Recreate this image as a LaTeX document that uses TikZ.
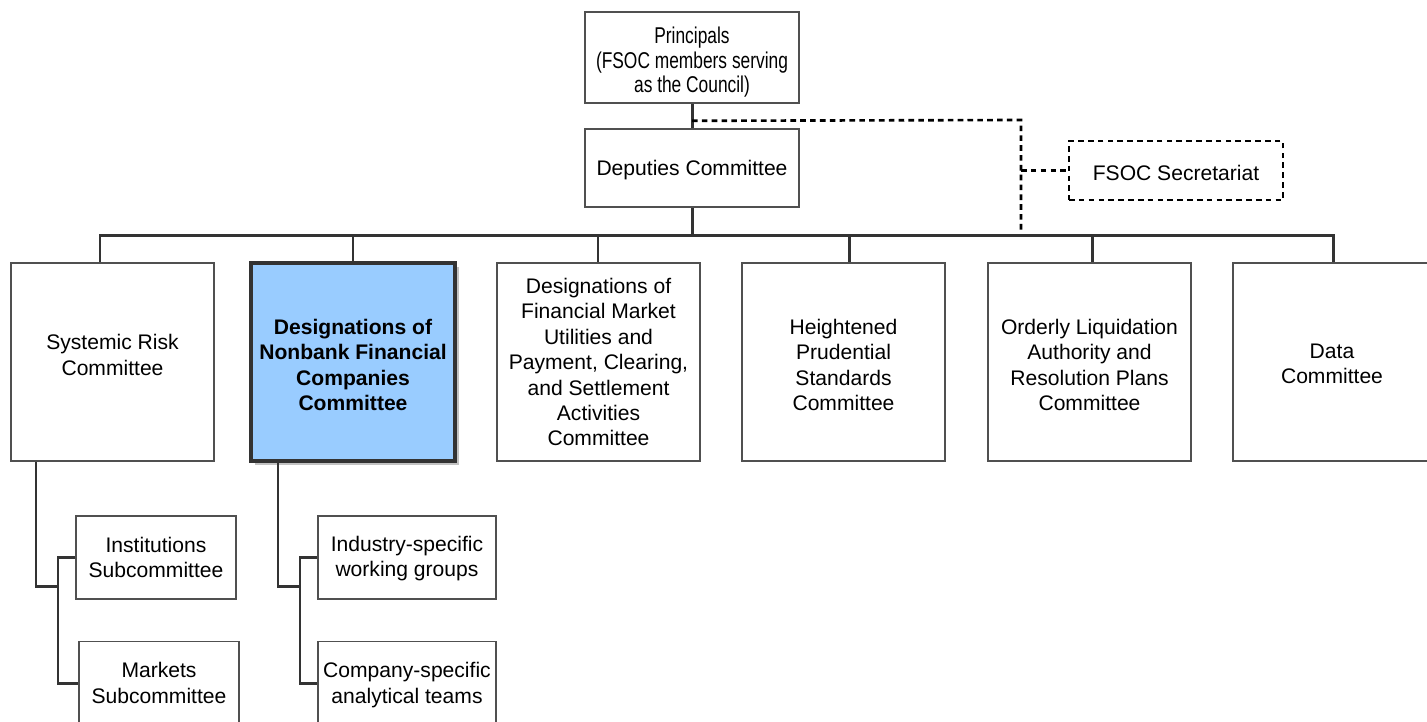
\documentclass[tikz,border=0pt]{standalone}
\usepackage{fontspec}
\setmainfont{Liberation Sans}
\newfontfamily\narrowfont[FakeStretch=0.76]{Liberation Sans}
\usetikzlibrary{shadows}
\definecolor{linec}{HTML}{333333}
\definecolor{boxc}{HTML}{505050}
\definecolor{hl}{HTML}{99CCFF}
\begin{document}
\begin{tikzpicture}[x=0.02cm,y=-0.02cm,
  box/.style={draw=boxc, line width=0.9pt, fill=white, inner sep=0pt},
  tx/.style={align=center, inner sep=0pt, font=\fontsize{12}{14.5}\selectfont},
  bigbox/.style={box, minimum width=4.06cm, minimum height=3.96cm},
  subbox/.style={box, minimum height=1.66cm},
  conn/.style={draw=linec, line width=1.7pt},
  dashconn/.style={draw=black, line width=1.5pt, dash pattern=on 3.2pt off 2.4pt}]
\useasboundingbox (0,0) rectangle (1427,721);

% top
\node[box, minimum width=4.28cm, minimum height=1.82cm,
  label={[tx, font=\narrowfont\fontsize{13}{13.9}\selectfont, yshift=-0.1cm]center:{Principals\\(FSOC members serving\\as the Council)}}]
  (prin) at (692,57.5) {};
\node[box, minimum width=4.28cm, minimum height=1.56cm,
  label={[tx, yshift=-0.04cm]center:{Deputies Committee}}] (dep) at (692,168) {};
\node[box, draw=black, line width=1.5pt, dash pattern=on 3.2pt off 2.4pt,
  minimum width=4.28cm, minimum height=1.18cm,
  label={[tx, yshift=-0.04cm]center:{FSOC Secretariat}}] (sec) at (1176,170.5) {};

% committees
\node[bigbox, label={[tx, yshift=0.14cm]center:{Systemic Risk\\Committee}}] (sys) at (112.5,362) {};
\node[bigbox, fill=hl, draw=linec, line width=1.8pt, minimum width=4.08cm,
  drop shadow={shadow xshift=0.08cm, shadow yshift=-0.08cm, opacity=0.4, fill=black!60},
  label={[tx, font=\bfseries\fontsize{12}{14.5}\selectfont, yshift=-0.06cm]center:{Designations of\\Nonbank Financial\\Companies\\Committee}}]
  (nbfc) at (353,362) {};
\node[bigbox, label={[tx]center:{Designations of\\Financial Market\\Utilities and\\Payment, Clearing,\\and Settlement\\Activities\\Committee}}] (dfmu) at (598.5,362) {};
\node[bigbox, label={[tx, yshift=-0.06cm]center:{Heightened\\Prudential\\Standards\\Committee}}] (hps) at (843.5,362) {};
\node[bigbox, label={[tx, yshift=-0.06cm]center:{Orderly Liquidation\\Authority and\\Resolution Plans\\Committee}}] (ola) at (1089.5,362) {};
\node[bigbox, minimum width=3.96cm, label={[tx, yshift=-0.04cm]center:{Data\\Committee}}] (data) at (1332,362) {};

% subcommittees
\node[subbox, minimum width=3.2cm, label={[tx]center:{Institutions\\Subcommittee}}] (inst) at (156,557.5) {};
\node[subbox, minimum width=3.2cm, label={[tx]center:{Markets\\Subcommittee}}] (mkt) at (159,683) {};
\node[subbox, minimum width=3.56cm, label={[tx, yshift=-0.02cm]center:{Industry-specific\\working groups}}] (ind) at (407,557.5) {};
\node[subbox, minimum width=3.56cm, label={[tx, yshift=-0.04cm]center:{Company-specific\\analytical teams}}] (comp) at (407,683) {};

% connectors top
\draw[conn] (prin.south) -- (dep.north);
\path (prin.south) ++(0,17) coordinate (dj);
\coordinate (dc) at (1021,120);
\coordinate (de) at (1021,233);
\draw[dashconn] (dj) -- (dc) -- (de);
\draw[dashconn] (dc |- sec.west) -- (sec.west);

% bus
\coordinate (t1) at (100,235);
\coordinate (t2) at (353,235);
\coordinate (t3) at (598,235);
\coordinate (t4) at (849,235);
\coordinate (t5) at (1092,235);
\coordinate (t6) at (1333,235);
\draw[conn] (dep.south) -- (dep.south |- t1);
\draw[conn, line join=miter] (t1 |- sys.north) -- (t1) -- (t6) -- (t6 |- data.north);
\draw[conn] (t2) -- (t2 |- nbfc.north);
\draw[conn] (t3) -- (t3 |- dfmu.north);
\draw[conn] (t4) -- (t4 |- hps.north);
\draw[conn] (t5) -- (t5 |- ola.north);

% sub connectors
\coordinate (a1) at (36,586);
\coordinate (a2) at (58,586);
\draw[conn, line join=miter] (sys.south -| a1) -- (a1) -- (a2);
\draw[conn, line join=miter] (inst.west) -| (a2) |- (mkt.west);
\coordinate (b1) at (278,586);
\coordinate (b2) at (300,586);
\draw[conn, line join=miter] (nbfc.south -| b1) -- (b1) -- (b2);
\draw[conn, line join=miter] (ind.west) -| (b2) |- (comp.west);
\end{tikzpicture}
\end{document}
